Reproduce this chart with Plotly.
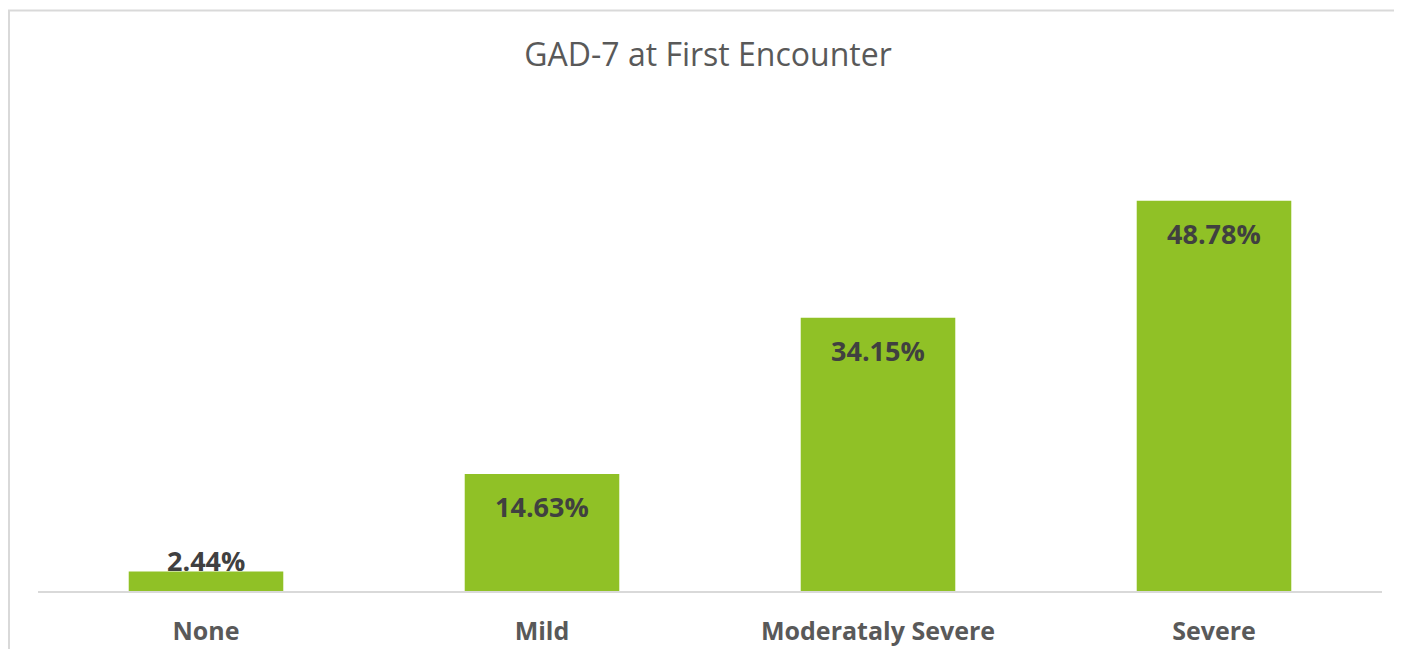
import plotly.graph_objects as go

categories = ["None", "Mild", "Moderataly Severe", "Severe"]
values = [2.44, 14.63, 34.15, 48.78]
labels = ["2.44%", "14.63%", "34.15%", "48.78%"]

BAR = "#90C126"
FONT = "Open Sans"

fig = go.Figure(go.Bar(x=categories, y=values, marker=dict(color=BAR, line=dict(width=0)),
                       hoverinfo="skip"))

# page body adds an 8px margin, so figure coords = page coords - 8
W, H = 1386, 641
L, R, T, B = 30, 12, 103, 58
pw, ph = W - L - R, H - T - B

# data labels
for c, v, t in zip(categories, values, labels):
    inside = v > 5
    fig.add_annotation(x=c, y=v, xref="x", yref="y", text=t, showarrow=False,
                       yanchor="middle", yshift=-33 if inside else 11,
                       font=dict(family=FONT, size=27, color="#404040", weight="bold"))

def px_x(x):
    return (x - L) / pw
def px_y(y):
    return (H - B - y) / ph

# chart border (top and left visible)
fig.add_shape(type="line", xref="paper", yref="paper", x0=px_x(0), x1=px_x(W), y0=px_y(2.5), y1=px_y(2.5),
              line=dict(color="#d9d9d9", width=2))
fig.add_shape(type="line", xref="paper", yref="paper", x0=px_x(1), x1=px_x(1), y0=px_y(2), y1=px_y(H),
              line=dict(color="#d9d9d9", width=2))

fig.update_layout(
    width=W, height=H,
    margin=dict(l=L, r=R, t=T, b=B, autoexpand=False),
    paper_bgcolor="white", plot_bgcolor="white",
    bargap=0.54,
    showlegend=False,
    title=dict(text="GAD-7 at First Encounter", x=700 / W, xanchor="center", y=1 - 47 / H, yanchor="middle",
               font=dict(family=FONT, size=32, color="#595959")),
    xaxis=dict(showline=True, linecolor="#d9d9d9", linewidth=2, showgrid=False, zeroline=False,
               ticks="", ticklabelstandoff=17,
               tickfont=dict(family=FONT, size=25, color="#595959", weight="bold")),
    yaxis=dict(range=[0, 60], visible=False, showgrid=False, zeroline=False),
)

fig.write_html("out.html")
